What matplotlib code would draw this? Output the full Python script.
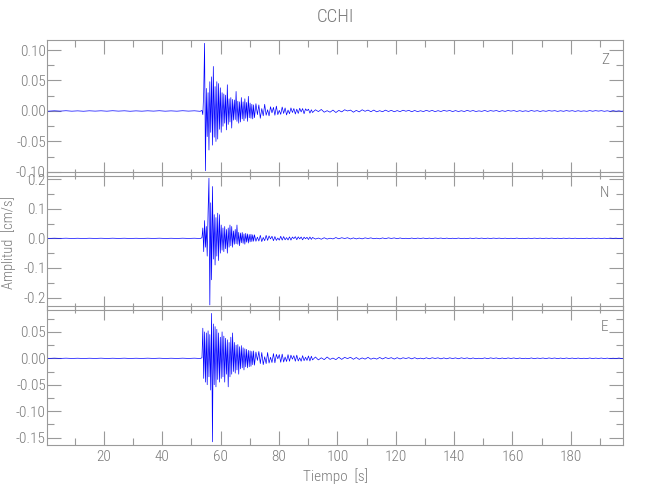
import numpy as np
import matplotlib
matplotlib.use("Agg")
import matplotlib.pyplot as plt
from matplotlib.ticker import MultipleLocator, FormatStrFormatter

# station and components
station = "CCHI"
components = ["Z", "N", "E"]

# sample times (s): quiet pre-event, strong motion, coda, tail
t_pre = np.linspace(-1.0, 53.0, 28)
t_main = np.linspace(53.6, 71.3, 60)
t_coda = np.linspace(71.6, 91.1, 40)
t_tail = np.linspace(91.5, 200.5, 110)

# amplitudes, in units of 1e-4 cm/s
z_pre = [2, -3, 3, -2, 4, -3, 2,
         -4, 3, -2, 3, -3, 4, -2,
         3, -4, 2, -3, 3, -2, 4,
         -3, 2, -3, 4, -2, 3, -5]
z_main = [10, -60, 300, 1110, -980, 370, -420, 300, -640, 480,
          -350, 560, -560, 730, -430, 400, -500, 480, -460, 450,
          -300, 380, -350, 300, -250, 280, -200, 260, -310, 430,
          -220, 200, -180, 220, -280, 190, -150, 180, -140, 320,
          -170, 160, -200, 150, -180, 220, -130, 150, -160, 200,
          -120, 140, -170, 240, -110, 130, -120, 110, -130, 100]
z_coda = [-110, 120, -60, 100, -120, 40, -80, 110, -70, 20,
          -80, 70, -30, 60, -70, 80, -60, 10, -55, 65,
          -40, 50, -65, 15, -45, 50, -25, 40, -50, 30,
          -40, 45, -15, 40, -45, 35, 5, 30, -35, 20]
z_tail = [-25, 20, -10, 25, -20, 5, -20, 15, -25, 10,
          -15, 20, 0, 15, -20, 10, -15, 20, -5, 15,
          -12, 15, -14, 5, -12, 14, -8, 10, -12, 6,
          -10, 12, -4, 10, -12, 8, -10, 4, -9, 10,
          -6, 9, -10, 5, -8, 9, -3, 8, -9, 6,
          -8, 4, -8, 9, -5, 7, -8, 2, -6, 8,
          -7, 6, -3, 7, -8, 5, -6, 7, -2, 6,
          -7, 5, -6, 3, -6, 7, -4, 5, -7, 4,
          -5, 6, -2, 5, -6, 4, -5, 6, -3, 5,
          -6, 4, -5, 2, -5, 6, -4, 5, -2, 5,
          -5, 3, -6, 5, -4, 2, -5, 4, -5, 4]

n_pre = [3, -4, 4, -3, 5, -4, 3,
         -5, 4, -3, 4, -4, 5, -3,
         4, -5, 3, -4, 4, -3, 5,
         -4, 3, -4, 5, -3, 4, -5]
n_main = [20, 350, -450, 600, -300, 400, -600, 900, 2030, -2250,
          1200, -1400, 1750, -700, 800, -900, 700, -600, 850, -750,
          800, -500, 450, -400, 350, -450, 400, -350, 300, -500,
          350, -300, 450, -250, 400, -300, 250, -200, 300, -180,
          450, -200, 200, -250, 180, -150, 200, -170, 150, -200,
          170, -130, 150, -160, 130, -120, 140, -110, 120, -100]
n_coda = [120, -100, 40, -90, 100, -110, 30, -80, 100, -70,
          80, -20, 70, -80, 60, -70, 10, -60, 70, -60,
          60, -50, 25, -55, 50, -60, 45, -10, 55, -45,
          50, -20, 45, -50, 40, -15, 35, -40, 45, -35]
n_tail = [30, -25, 10, -30, 20, -25, 5, -20, 25, -15,
          20, -5, 20, -22, 15, -20, 10, -18, 15, -5,
          15, -14, 5, -16, 14, -12, 16, -4, 14, -12,
          12, -10, 3, -12, 10, -12, 8, -4, 10, -12,
          8, -10, 10, -2, 9, -10, 8, -9, 4, -8,
          9, -8, 3, -9, 8, -7, 9, -3, 8, -9,
          7, -6, 8, -2, 7, -8, 6, -7, 3, -7,
          8, -6, 2, -7, 6, -7, 7, -3, 6, -7,
          6, -2, 7, -6, 5, -7, 6, -3, 6, -6,
          5, -6, 2, -6, 5, -5, 6, -2, 5, -6,
          5, -4, 6, -2, 5, -6, 4, -5, 2, -5]

e_pre = [2, -3, 3, -2, 3, -2, 2,
         -3, 2, -2, 3, -3, 2, -2,
         3, -3, 2, -2, 3, -2, 3,
         -3, 2, -2, 3, -2, 3, -3]
e_main = [10, 570, -380, 500, -450, 480, -500, 520, -350, 450,
          -600, 850, -1580, 650, -500, 600, -540, 550, -400, 480,
          -450, 400, -380, 500, -350, 420, -450, 380, -300, 350,
          -540, 300, -350, 400, -300, 480, -250, 300, -280, 250,
          -220, 260, -300, 220, -200, 240, -180, 200, -220, 180,
          -160, 170, -180, 150, -160, 140, -150, 130, -120, 140]
e_coda = [-130, 120, -40, 130, -100, 110, -120, 30, -100, 110,
          -90, 20, -80, 90, -85, 75, -10, 70, -75, 80,
          -70, 25, -60, 70, -55, 60, -15, 50, -55, 60,
          -50, 10, -55, 50, -45, 20, -40, 45, -50, 40]
e_tail = [-30, 25, -30, 10, -25, 25, -20, 5, -25, 20,
          -20, 18, -5, 20, -18, 15, -20, 8, -15, 18,
          -16, 5, -15, 16, -12, 14, -4, 12, -14, 12,
          -12, 10, -3, 12, -10, 12, -10, 4, -10, 10,
          -9, 10, -2, 9, -10, 8, -9, 9, -4, 8,
          -8, 9, -3, 8, -9, 7, -8, 2, -7, 8,
          -7, 8, -2, 7, -8, 6, -7, 7, -3, 7,
          -7, 6, -6, 2, -6, 7, -7, 5, -2, 6,
          -6, 7, -2, 6, -6, 5, -6, 6, -3, 5,
          -6, 5, -5, 2, -5, 6, -5, 4, -2, 5,
          -5, 4, -5, 2, -4, 5, -5, 4, -2, 5]

# axis ranges and tick steps per panel
y_limits = [(-0.1066, 0.1164), (-0.242, 0.224), (-0.164, 0.099)]
y_major = [0.05, 0.1, 0.05]
y_fmt = ["%.2f", "%.1f", "%.2f"]
x_limits = (0.6, 198.0)

GRAY = "#9a9a9a"
TXT = "#7a7a7a"
plt.rcParams["font.family"] = ["Roboto Condensed", "Roboto", "DejaVu Sans"]
plt.rcParams["font.weight"] = "light"
plt.rcParams["axes.labelweight"] = "light"


def trace(pre, main, coda, tail):
    t = np.concatenate([t_pre, t_main, t_coda, t_tail])
    v = np.concatenate([pre, main, coda, tail]) * 1e-4
    return t, v


traces = [trace(z_pre, z_main, z_coda, z_tail),
          trace(n_pre, n_main, n_coda, n_tail),
          trace(e_pre, e_main, e_coda, e_tail)]

W, H = 650.0, 500.0
left, right = 47.3, 623.3
panels = [(40, 176), (172, 310), (306, 445)]   # top/bottom in pixels

fig = plt.figure(figsize=(6.5, 5), dpi=100)
axes = []
for i, (top, bot) in enumerate(panels):
    ax = fig.add_axes([left / W, 1 - bot / H, (right - left) / W, (bot - top) / H])
    ax.patch.set_alpha(0)
    t, v = traces[i]
    ax.plot(t, v, color="#0000ff", lw=0.5)
    ax.set_xlim(*x_limits)
    ax.set_ylim(*y_limits[i])
    ax.xaxis.set_major_locator(MultipleLocator(20))
    ax.xaxis.set_minor_locator(MultipleLocator(10))
    ax.yaxis.set_major_locator(MultipleLocator(y_major[i]))
    ax.yaxis.set_minor_locator(MultipleLocator(y_major[i] / 2))
    ax.yaxis.set_major_formatter(FormatStrFormatter(y_fmt[i]))
    for s in ax.spines.values():
        s.set_color(GRAY)
        s.set_linewidth(0.8)
    ax.tick_params(which="both", direction="in", top=True, right=True,
                   color=GRAY, labelcolor=TXT, labelsize=11, width=0.8)
    ax.tick_params(which="major", length=10)
    ax.tick_params(which="minor", length=5)
    ax.tick_params(axis="y", pad=1)
    if i < 2:
        ax.tick_params(axis="x", labelbottom=False)
    ax.text(0.968, 0.85, components[i], transform=ax.transAxes,
            color=TXT, fontsize=11, ha="center", va="center")
    axes.append(ax)

axes[-1].set_xlabel("Tiempo  [s]", color=TXT, fontsize=11, labelpad=3)
fig.text(0.013, 0.515, "Amplitud  [cm/s]", rotation=90, color=TXT,
         fontsize=10.5, ha="center", va="center")
fig.text(335.3 / W, 1 - 17 / H, station, color=TXT, fontsize=13.5,
         ha="center", va="center")

fig.savefig("out.png", dpi=100)
